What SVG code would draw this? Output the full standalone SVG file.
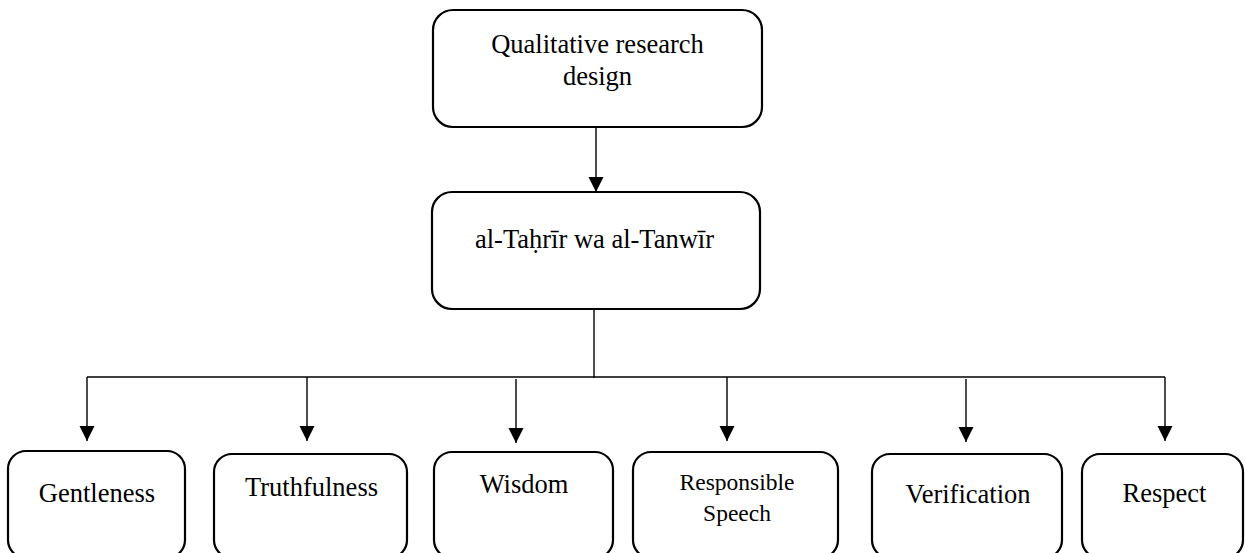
<svg xmlns="http://www.w3.org/2000/svg" width="1245" height="553" viewBox="0 0 1245 553">
<style>
.box{fill:#fff;stroke:#000;stroke-width:2.2}
.t{font-family:"Liberation Serif","Times New Roman",serif;font-size:26.5px;fill:#000;text-anchor:middle}
.s{font-size:23.5px}
.c{stroke:#000;stroke-width:1.4;fill:none}
</style>
<defs>
<marker id="ah" markerUnits="userSpaceOnUse" markerWidth="18" markerHeight="18" viewBox="0 0 18 18" refX="15" refY="9" orient="auto">
<path d="M0,1.5 L15,9 L0,16.5 Z" fill="#000"/>
</marker>
</defs>
<rect width="1245" height="553" fill="#fff"/>
<g id="connectors">
<line class="c" x1="596" y1="127" x2="596" y2="192" marker-end="url(#ah)"/>
<line class="c" x1="594" y1="309" x2="594" y2="378"/>
<line class="c" x1="87" y1="377" x2="1165" y2="377"/>
<line class="c" x1="87" y1="377" x2="87" y2="441" marker-end="url(#ah)"/>
<line class="c" x1="307" y1="377" x2="307" y2="441" marker-end="url(#ah)"/>
<line class="c" x1="516" y1="379" x2="516" y2="443" marker-end="url(#ah)"/>
<line class="c" x1="727" y1="377" x2="727" y2="441" marker-end="url(#ah)"/>
<line class="c" x1="966" y1="379" x2="966" y2="442" marker-end="url(#ah)"/>
<line class="c" x1="1165" y1="377" x2="1165" y2="441" marker-end="url(#ah)"/>
</g>
<g id="n-qualitative">
<rect class="box" x="433" y="10" width="329" height="117" rx="20"/>
<text class="t" x="597.5" y="53">Qualitative research</text>
<text class="t" x="597.5" y="85">design</text>
</g>
<g id="n-tahrir">
<rect class="box" x="432" y="192" width="328" height="117" rx="20"/>
<text class="t" x="594.5" y="248">al-Taḥrīr wa al-Tanwīr</text>
</g>
<g id="n-gentleness">
<rect class="box" x="8" y="451" width="177" height="107" rx="18"/>
<text class="t" x="97" y="502">Gentleness</text>
</g>
<g id="n-truthfulness">
<rect class="box" x="214" y="454" width="193" height="104" rx="18"/>
<text class="t" x="311.5" y="496">Truthfulness</text>
</g>
<g id="n-wisdom">
<rect class="box" x="434" y="452" width="179" height="106" rx="18"/>
<text class="t" x="524" y="493">Wisdom</text>
</g>
<g id="n-responsible">
<rect class="box" x="633" y="452" width="205" height="106" rx="18"/>
<text class="t s" x="737" y="490">Responsible</text>
<text class="t s" x="737" y="521">Speech</text>
</g>
<g id="n-verification">
<rect class="box" x="872" y="454" width="190" height="104" rx="18"/>
<text class="t" x="968" y="503">Verification</text>
</g>
<g id="n-respect">
<rect class="box" x="1082" y="454" width="161" height="104" rx="18"/>
<text class="t" x="1164.5" y="502">Respect</text>
</g>
</svg>
